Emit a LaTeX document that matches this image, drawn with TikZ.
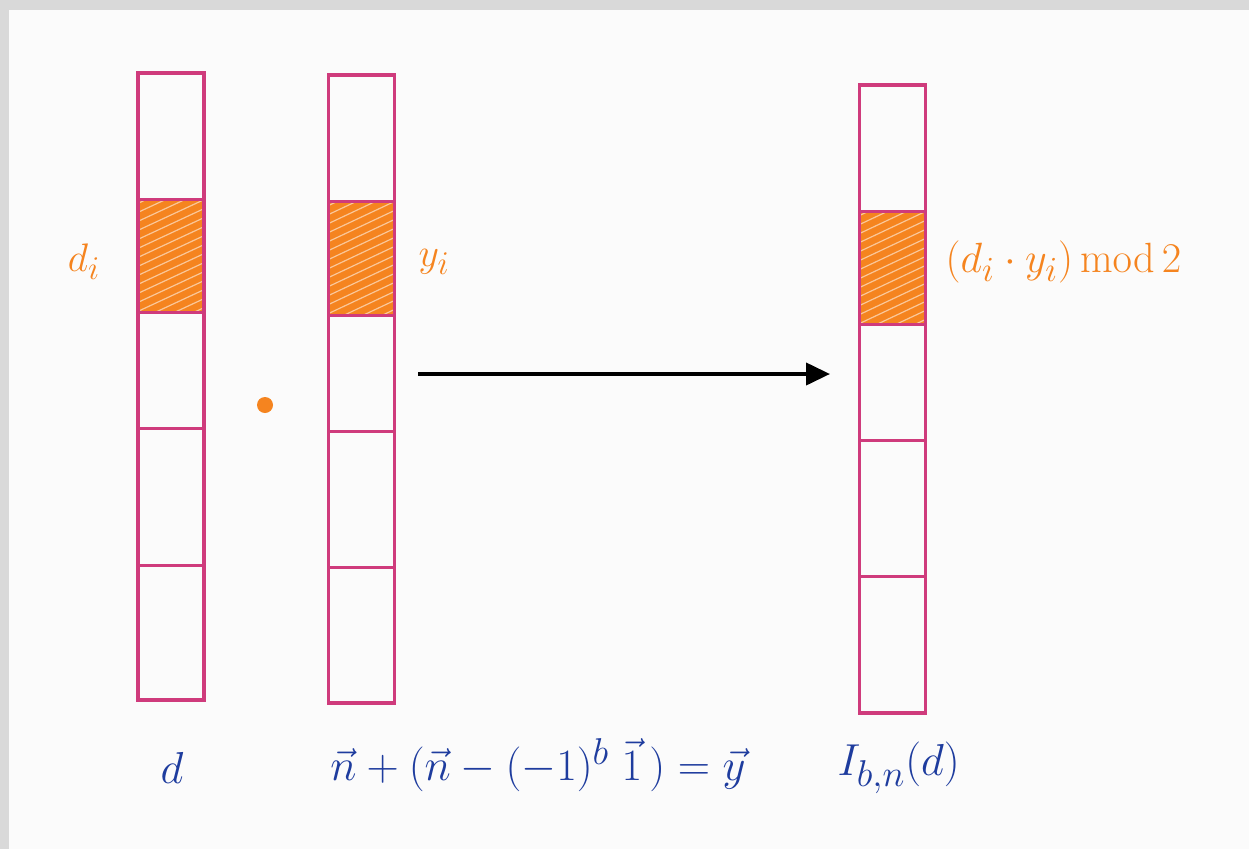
\documentclass[tikz,border=0pt]{standalone}
\usepackage{graphicx}
\usetikzlibrary{arrows.meta}
\definecolor{framegray}{HTML}{D9D9D9}
\definecolor{paper}{HTML}{FBFBFB}
\definecolor{mag}{HTML}{CF3B7C}
\definecolor{org}{HTML}{F5841F}
\definecolor{ink}{HTML}{1E3C9E}
\newcommand{\bigtxt}[2][1.45]{\scalebox{#1}{#2}}
\tikzset{
  colbox/.style={draw=mag, line width=3.5pt, minimum width=66pt, inner sep=0pt},
  divline/.style={draw=mag, line width=3pt},
  shade/.style={fill=org},
  hatch/.style={draw=white, line width=1.2pt, opacity=0.55},
  orglabel/.style={text=org, font=\Huge},
  inklabel/.style={text=ink, font=\Huge}
}
\tikzset{arr/.style={draw=black, line width=4pt, -{Triangle[length=24pt,width=22pt]}}}
\begin{document}
\begin{tikzpicture}[x=1pt,y=-1pt]
\fill[framegray] (0,0) rectangle (1249,849);
\fill[paper] (9,10) rectangle (1249,849);
\useasboundingbox (0,0) rectangle (1249,849);

% shaded cells
\foreach \xa/\xb/\ya/\yb in {138/204/199/312, 329/394/201/315, 860/925/211/324}{
  \fill[shade] (\xa,\ya) rectangle (\xb,\yb);
  \begin{scope}
    \clip (\xa,\ya) rectangle (\xb,\yb);
    \foreach \k in {0,9,...,180}{
      \draw[hatch] (\xa-10,\ya+\k) -- (\xb+10,\ya+\k-40);
    }
  \end{scope}
}

% columns
\node[colbox, minimum height=627pt] (colA) at (171,386.5) {};
\node[colbox, minimum height=628pt] (colB) at (361.5,389) {};
\node[colbox, minimum height=628pt] (colC) at (892.5,399) {};

% dividers
\foreach \y in {199,312,428,565}{ \draw[divline] (138,\y) -- (204,\y); }
\foreach \y in {201,315,431,567}{ \draw[divline] (329,\y) -- (394,\y); }
\foreach \y in {211,324,440,576}{ \draw[divline] (860,\y) -- (925,\y); }

% dot operator
\fill[org] (265,405) circle (8pt);

% arrow
\coordinate (arrS) at (418,374);
\coordinate (arrE) at (830,374);
\draw[arr] (arrS) -- (arrE);

% orange labels
\node[orglabel] (ldi) at (84,262) {\bigtxt[1.6]{$d_i$}};
\node[orglabel] (lyi) at (434,262) {\bigtxt[1.6]{$y_i$}};
\node[orglabel, anchor=west] (lres) at (942,262) {\bigtxt[1.7]{$(d_i\cdot y_i)\,\mathrm{mod}\,2$}};

% blue labels
\node[inklabel] (ld) at (172,768) {\bigtxt[1.8]{$d$}};
\node[inklabel] (leq) at (538,765) {\bigtxt[1.8]{$\vec{n}+(\vec{n}-(-1)^{b}\;\vec{1}\,)=\vec{y}$}};
\node[inklabel, anchor=west] (lI) at (834,768) {\bigtxt[1.8]{$I_{b,n}(d)$}};
\end{tikzpicture}
\end{document}
